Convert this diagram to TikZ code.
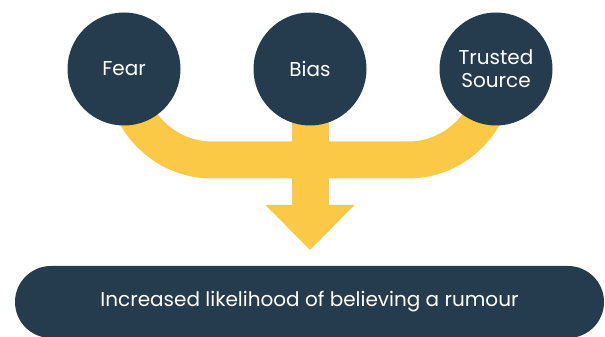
\documentclass[tikz,border=0pt]{standalone}
\usepackage{fontspec}
\setmainfont{Poppins}
\usetikzlibrary{arrows.meta,backgrounds}
\definecolor{navy}{HTML}{243C4D}
\definecolor{gold}{HTML}{FCC946}

\begin{document}
\begin{tikzpicture}[x=1pt,y=1pt,node distance=186pt,
    main node/.style={circle,fill=navy,text=white,minimum size=113pt,inner sep=0pt,align=center,font=\fontsize{20}{23}\selectfont},
    band/.style={draw=gold,line width=37pt}]
                \useasboundingbox (0,0) rectangle (605,337);

                \node[main node] (2) at (310,268) {Bias};
                \node[main node] (1) [left of = 2] {Fear};
                \node[main node] (3) [right of = 2] {Trusted\\Source};

                \node[rounded corners=36pt, fill=navy, text=white, minimum width=589pt, minimum height=72pt,
                    font=\fontsize{20}{23}\selectfont] (4) at (309.5,35) {Increased likelihood of believing a rumour};

                \coordinate (5) at (212,177);
                \coordinate (6) at (408,177);
                \coordinate (7) at (310,87);

                \begin{scope}[on background layer]
                    \draw[band] (1.center) to[out=-90,in=180] (5) -- (6) to[out=0,in=-90] (3.center);
                    \draw[band,-{Triangle[width=89pt,length=45pt,line width=0pt]}] (2.center) -- (7);
                \end{scope}
            \end{tikzpicture}
\end{document}
